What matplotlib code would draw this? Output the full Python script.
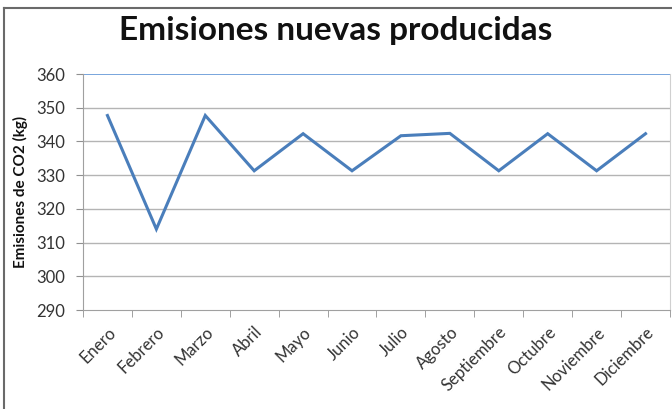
import numpy as np
import matplotlib.pyplot as plt
from matplotlib.lines import Line2D

meses = ['Enero', 'Febrero', 'Marzo', 'Abril', 'Mayo', 'Junio', 'Julio',
         'Agosto', 'Septiembre', 'Octubre', 'Noviembre', 'Diciembre']
emisiones = [347.7, 314.0, 347.7, 331.3, 342.3, 331.3, 341.7,
             342.4, 331.3, 342.3, 331.3, 342.3]
y_ticks = [290, 300, 310, 320, 330, 340, 350, 360]

plt.rcParams['font.family'] = ['Lato', 'DejaVu Sans']

fig = plt.figure(figsize=(6.72, 4.09), dpi=100)
ax = fig.add_axes([0.1235, 0.242, 0.8735, 0.577])

x = np.arange(len(meses))
ax.plot(x, emisiones, color='#4a7ebb', linewidth=2.2, solid_joinstyle='miter')

ax.set_xlim(-0.5, len(meses) - 0.5)
ax.set_ylim(290, 360)
ax.set_yticks(y_ticks)
ax.tick_params(axis='y', length=5, color='#909090', labelsize=12,
               labelcolor='#333333', pad=8)

# category labels centred, tick marks between categories
ax.set_xticks(x)
ax.set_xticklabels(meses, rotation=45, ha='right', rotation_mode='anchor',
                   fontsize=12, color='#333333')
ax.tick_params(axis='x', length=0, pad=10)
ax.set_xticks(np.arange(len(meses) + 1) - 0.5, minor=True)
ax.tick_params(axis='x', which='minor', length=5, color='#909090')

for v in y_ticks[1:-1]:
    ax.axhline(v, color='#b4b4b4', linewidth=1.0, zorder=0)
ax.axhline(360, color='#6d9eda', linewidth=1.3, zorder=0)

ax.spines['top'].set_visible(False)
ax.spines['right'].set_color('#d0d0d0')
ax.spines['left'].set_color('#a0a0a0')
ax.spines['bottom'].set_color('#a0a0a0')

ax.set_ylabel('Emisiones de CO2 (kg)', fontsize=11, fontweight='bold',
              color='#111111', labelpad=6)

fig.text(0.5, 0.925, 'Emisiones nuevas producidas', ha='center', va='center',
         fontsize=24, fontweight='bold', color='#111111')

# outer chart frame (left and top edges)
fig.add_artist(Line2D([0.006, 0.006], [0.0, 0.981], transform=fig.transFigure,
                      color='#6a6a6a', linewidth=1.5))
fig.add_artist(Line2D([0.006, 1.0], [0.981, 0.981], transform=fig.transFigure,
                      color='#6a6a6a', linewidth=1.5))

fig.savefig('out.png', dpi=100)
